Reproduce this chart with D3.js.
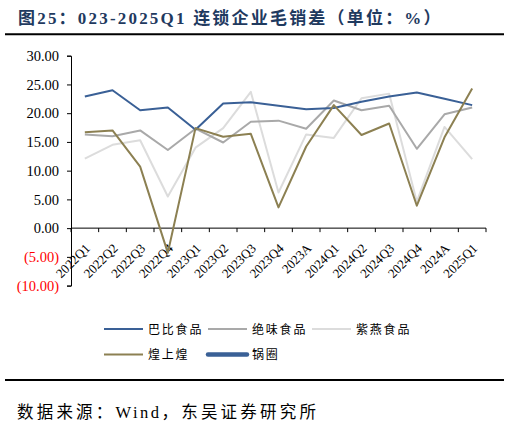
<!DOCTYPE html>
<html>
<head>
<meta charset="utf-8">
<script src="https://cdn.jsdelivr.net/npm/d3@7"></script>
<style>
  html, body { margin: 0; padding: 0; background: #fff; }
  svg { display: block; }
  .ylab, .xlab { font-family: "Liberation Serif", "Times New Roman", serif; }
  .cjk { font-family: "Noto Sans CJK SC", sans-serif; }
  .mix { font-family: "Liberation Serif", "Noto Sans CJK SC", serif; }
</style>
</head>
<body>
<svg id="chart" width="510" height="428"></svg>
<script>
(function () {
  'use strict';

  // ---- data ----
  var categories = ['2022Q1', '2022Q2', '2022Q3', '2022Q4', '2023Q1', '2023Q2', '2023Q3', '2023Q4',
                    '2023A', '2024Q1', '2024Q2', '2024Q3', '2024Q4', '2024A', '2025Q1'];
  var babi       = [22.9, 24.0, 20.5, 21.0, 17.1, 21.7, 21.9, 21.3, 20.7, 20.9, 22.0, 22.9, 23.6, 22.5, 21.4];
  var juewei     = [16.3, 16.0, 17.0, 13.6, 17.3, 14.9, 18.5, 18.7, 17.3, 22.2, 20.5, 21.3, 13.8, 19.8, 21.0];
  var ziyan      = [12.1, 14.5, 15.3, 5.5, 14.0, 17.4, 23.7, 6.2, 16.3, 15.7, 22.6, 23.4, 4.6, 17.6, 12.0];
  var huangshang = [16.7, 17.0, 10.7, -4.3, 17.4, 15.9, 16.4, 3.6, 14.2, 21.4, 16.2, 18.2, 3.9, 15.8, 24.3];
  var guoquan    = [null, null, null, null, null, null, null, null, null, null, null, null, null, null, null];
  var yTicks = [-10, -5, 0, 5, 10, 15, 20, 25, 30];

  var series = [
    { name: '巴比食品', values: babi,       color: '#3A6096', width: 2 },
    { name: '绝味食品', values: juewei,     color: '#A9A9A9', width: 2 },
    { name: '紫燕食品', values: ziyan,      color: '#DCDCDC', width: 2 },
    { name: '煌上煌',   values: huangshang, color: '#8C8052', width: 2 },
    { name: '锅圈',     values: guoquan,    color: '#3A6096', width: 4.5, cap: 'round' }
  ];
  var drawOrder = [2, 1, 0, 3, 4];   // light lines underneath

  var svg = d3.select('#chart');

  // ---- title + rules ----
  svg.append('text').attr('class', 'mix')
    .attr('x', 18).attr('y', 24)
    .attr('fill', '#1F3A5F').attr('font-size', 17).attr('font-weight', 700)
    .attr('letter-spacing', 2.2)
    .text('图25：023-2025Q1 连锁企业毛销差（单位：%）');
  svg.append('line').attr('x1', 5).attr('x2', 504).attr('y1', 34.3).attr('y2', 34.3)
    .attr('stroke', '#000').attr('stroke-width', 2);
  svg.append('line').attr('x1', 5).attr('x2', 504).attr('y1', 380).attr('y2', 380)
    .attr('stroke', '#000').attr('stroke-width', 2);
  var src = svg.append('text').attr('class', 'mix')
    .attr('x', 17).attr('y', 418)
    .attr('fill', '#000').attr('font-size', 16.5);
  src.append('tspan').attr('letter-spacing', 3.2).text('数据来源：');
  src.append('tspan').attr('letter-spacing', 2.5).text('Wind');
  src.append('tspan').attr('letter-spacing', 3.2).text('，东吴证券研究所');

  // ---- scales ----
  var x = d3.scaleBand().domain(categories).range([71, 486]);
  var y = d3.scaleLinear().domain([-10, 30]).range([285.6, 55.7]);

  // ---- y axis ----
  var yAxis = svg.append('g').attr('transform', 'translate(71,0)')
    .call(d3.axisLeft(y).tickValues(yTicks).tickSize(4).tickPadding(8)
      .tickFormat(function (d) { return d < 0 ? '(' + d3.format('.2f')(-d) + ')' : d3.format('.2f')(d); }));
  yAxis.select('.domain').attr('stroke', '#000');
  yAxis.selectAll('.tick line').attr('stroke', '#000');
  yAxis.selectAll('.tick text').attr('class', 'ylab')
    .attr('font-size', 14.5).attr('fill', function (d) { return d < 0 ? '#FF0000' : '#000'; });

  // ---- x axis at zero ----
  var xAxis = svg.append('g').attr('transform', 'translate(0,' + y(0) + ')');
  xAxis.append('line').attr('x1', 71).attr('x2', 486).attr('y1', 0).attr('y2', 0)
    .attr('stroke', '#000');
  xAxis.selectAll('line.tk').data(categories.concat(['_end'])).enter().append('line')
    .attr('class', 'tk')
    .attr('x1', function (d, i) { return i < categories.length ? x(d) : x.range()[1]; })
    .attr('x2', function (d, i) { return i < categories.length ? x(d) : x.range()[1]; })
    .attr('y1', 0).attr('y2', 4).attr('stroke', '#000');
  xAxis.selectAll('text').data(categories).enter().append('text')
    .attr('class', 'xlab')
    .attr('font-size', 13).attr('fill', '#000').attr('text-anchor', 'end')
    .attr('transform', function (d) {
      return 'translate(' + (x(d) + x.bandwidth() / 2 + 6) + ',21) rotate(-45)';
    })
    .text(function (d) { return d; });

  // ---- lines ----
  var line = d3.line()
    .defined(function (d) { return d != null; })
    .x(function (d, i) { return x(categories[i]) + x.bandwidth() / 2; })
    .y(function (d) { return y(d); });

  drawOrder.forEach(function (k) {
    var s = series[k];
    svg.append('path').datum(s.values)
      .attr('fill', 'none').attr('stroke', s.color).attr('stroke-width', s.width)
      .attr('stroke-linejoin', 'round')
      .attr('d', line);
  });

  // ---- legend ----
  var legendPos = [[104, 329], [208, 329], [312, 329], [104, 354.5], [208, 354.5]];
  series.forEach(function (s, i) {
    var p = legendPos[i];
    var g = svg.append('g').attr('transform', 'translate(' + p[0] + ',' + p[1] + ')');
    g.append('line').attr('x1', 0).attr('x2', 39).attr('y1', 0).attr('y2', 0)
      .attr('stroke', s.color).attr('stroke-width', s.width)
      .attr('stroke-linecap', s.cap || 'butt');
    g.append('text').attr('class', 'cjk')
      .attr('x', 44).attr('y', 4.5).attr('font-size', 12)
      .attr('letter-spacing', 1.8).attr('fill', '#000')
      .text(s.name);
  });
})();
</script>
</body>
</html>
